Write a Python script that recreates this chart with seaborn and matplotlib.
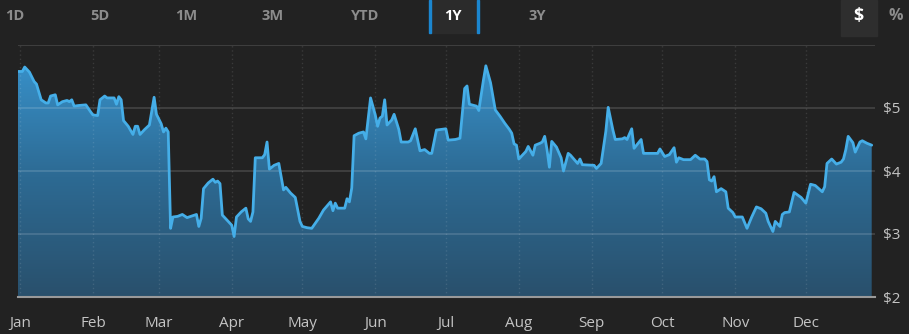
import numpy as np
import pandas as pd
import matplotlib
matplotlib.use("Agg")
import matplotlib.pyplot as plt
import seaborn as sns
from matplotlib.colors import LinearSegmentedColormap
from matplotlib.patches import Rectangle

# ---------------- data ----------------
start_date = "2023-01-01"
day_offsets = [-1, 1, 2, 4, 6, 7, 9, 11, 12, 13, 15, 16, 18, 20, 21, 22, 23, 25, 28, 30,
               31, 33, 34, 36, 37, 40, 41, 42, 43, 44, 46, 48, 49, 50, 51, 53, 55, 57, 58, 60,
               61, 62, 63, 64, 65, 67, 69, 71, 75, 76, 77, 78, 80, 82, 83, 84, 85, 86, 88, 90,
               91, 92, 94, 96, 97, 98, 99, 100, 103, 104, 105, 106, 108, 110, 112, 113, 115, 117, 119, 120,
               122, 124, 127, 129, 132, 133, 134, 135, 138, 139, 140, 141, 142, 144, 146, 147, 149, 151, 152, 153,
               154, 155, 156, 158, 159, 161, 162, 165, 166, 168, 170, 172, 174, 175, 177, 181, 182, 185, 187, 189,
               190, 191, 194, 195, 197, 198, 200, 201, 202, 204, 206, 208, 209, 210, 211, 212, 215, 216, 218, 219,
               221, 222, 223, 224, 225, 226, 228, 230, 231, 233, 234, 237, 238, 239, 244, 245, 247, 249, 250, 252,
               253, 256, 257, 258, 260, 261, 264, 265, 267, 271, 272, 274, 276, 278, 279, 280, 282, 285, 287, 289,
               291, 292, 293, 294, 295, 296, 298, 300, 301, 303, 304, 307, 309, 311, 313, 315, 317, 318, 320, 321,
               323, 324, 325, 327, 329, 332, 334, 336, 338, 341, 342, 343, 345, 347, 349, 350, 351, 352, 354, 355,
               357, 358, 360, 362]
prices = [5.58, 5.58, 5.65, 5.57, 5.42, 5.38, 5.13, 5.08, 5.08, 5.19, 5.21, 5.05, 5.10, 5.12, 5.10, 5.13, 5.03, 5.04, 5.05, 4.94,
          4.89, 4.88, 5.13, 5.19, 5.16, 5.16, 5.06, 5.18, 5.13, 4.80, 4.71, 4.58, 4.71, 4.71, 4.58, 4.66, 4.73, 5.17, 4.90, 4.75,
          4.62, 4.68, 4.62, 3.09, 3.27, 3.28, 3.31, 3.26, 3.31, 3.12, 3.25, 3.72, 3.81, 3.87, 3.82, 3.84, 3.80, 3.30, 3.22, 3.14,
          2.96, 3.27, 3.35, 3.41, 3.24, 3.20, 3.35, 4.21, 4.21, 4.26, 4.46, 4.03, 4.09, 4.12, 3.70, 3.74, 3.65, 3.58, 3.20, 3.12,
          3.10, 3.09, 3.25, 3.38, 3.51, 3.37, 3.49, 3.41, 3.41, 3.56, 3.51, 3.73, 4.56, 4.60, 4.62, 4.51, 5.16, 4.89, 4.71, 4.84,
          4.87, 5.13, 4.73, 4.81, 4.90, 4.66, 4.46, 4.46, 4.48, 4.67, 4.32, 4.34, 4.28, 4.28, 4.65, 4.67, 4.49, 4.50, 4.52, 5.31,
          5.35, 5.06, 5.03, 4.96, 5.45, 5.67, 5.40, 5.19, 4.97, 4.87, 4.76, 4.66, 4.60, 4.43, 4.41, 4.19, 4.31, 4.39, 4.25, 4.41,
          4.44, 4.46, 4.55, 4.34, 4.06, 4.47, 4.38, 4.21, 4.00, 4.28, 4.25, 4.12, 4.19, 4.10, 4.09, 4.04, 4.12, 4.63, 5.01, 4.65,
          4.50, 4.51, 4.53, 4.50, 4.67, 4.36, 4.50, 4.28, 4.28, 4.28, 4.35, 4.23, 4.26, 4.37, 4.14, 4.21, 4.18, 4.18, 4.25, 4.19,
          4.19, 4.15, 3.86, 3.84, 3.91, 3.67, 3.72, 3.67, 3.41, 3.34, 3.27, 3.27, 3.09, 3.27, 3.43, 3.40, 3.33, 3.20, 3.04, 3.20,
          3.12, 3.31, 3.34, 3.35, 3.66, 3.58, 3.49, 3.79, 3.77, 3.67, 3.75, 4.12, 4.19, 4.11, 4.14, 4.19, 4.34, 4.55, 4.45, 4.30,
          4.46, 4.48, 4.44, 4.41]
month_labels = ["Jan", "Feb", "Mar", "Apr", "May", "Jun", "Jul", "Aug", "Sep", "Oct", "Nov", "Dec"]
y_ticks = [2, 3, 4, 5]
y_tick_labels = ["$2", "$3", "$4", "$5"]
range_buttons = ["1D", "5D", "1M", "3M", "YTD", "1Y", "3Y"]
selected_range = "1Y"
unit_buttons = ["$", "%"]

# ---------------- styling ----------------
W, H = 909, 334
BG = "#222222"
LINE = "#45aee8"
TXT = "#c4c4c4"
BTN = "#8c8c8c"

sns.set_theme(style="dark")
plt.rcParams.update({
    "font.family": ["Open Sans", "DejaVu Sans"],
    "figure.facecolor": BG,
    "axes.facecolor": BG,
    "savefig.facecolor": BG,
})

base = pd.Timestamp(start_date)
df = pd.DataFrame({
    "date": base + pd.to_timedelta(day_offsets, unit="D"),
    "price": prices,
})

fig = plt.figure(figsize=(W / 100, H / 100), dpi=100)
ax = fig.add_axes([18 / W, 1 - 297 / H, (875 - 18) / W, (297 - 45) / H])
ax.set_facecolor(BG)

x_left = base - pd.Timedelta(days=0.85)
x_right = base + pd.Timedelta(days=363.4)
ax.set_xlim(x_left, x_right)
ax.set_ylim(2, 6)

# gradient area under the line
poly = ax.fill_between(df["date"], df["price"], 2, color="none", lw=0, zorder=1)
cmap = LinearSegmentedColormap.from_list("g", ["#29506c", "#2d6a93", "#3892cb"])
grad = np.linspace(0, 1, 256).reshape(-1, 1)
xl = matplotlib.dates.date2num([x_left, x_right])
img = ax.imshow(grad, cmap=cmap, origin="lower", aspect="auto",
                extent=[xl[0], xl[1], 2, 5.8], zorder=1, interpolation="bicubic")
img.set_clip_path(poly.get_paths()[0], transform=ax.transData)
ax.set_xlim(x_left, x_right)
ax.set_ylim(2, 6)

# grid lines
for v in [3, 4, 5, 6]:
    ax.axhline(v, color="white", alpha=0.13, lw=1.5, zorder=2)
month_starts = pd.date_range(start_date, periods=12, freq="MS")
for m in month_starts:
    ax.axvline(m, color="white", alpha=0.11, lw=1, ls=(0, (1, 2)), zorder=2)

# price line
sns.lineplot(data=df, x="date", y="price", ax=ax, color=LINE, lw=2, zorder=3)

# axes decoration
for s in ["top", "left", "right"]:
    ax.spines[s].set_visible(False)
ax.spines["bottom"].set_color("#9a9a9a")
ax.spines["bottom"].set_linewidth(1.5)
ax.set_xlabel("")
ax.set_ylabel("")
ax.set_xticks(month_starts)
ax.set_xticklabels(month_labels)
ax.tick_params(axis="x", colors="#a0a0a0", length=5.5, width=1.5, pad=8,
               labelsize=11, labelcolor=TXT)
ax.yaxis.tick_right()
ax.set_yticks(y_ticks)
ax.set_yticklabels(y_tick_labels)
ax.tick_params(axis="y", length=0, pad=6, labelsize=11, labelcolor=TXT)
ax.grid(False)

# ---------------- top control bar ----------------
def fx(px):
    return px / W

def fy(py):
    return 1 - py / H

btn_x = [15, 100, 186, 273, 365, 453, 537]
sel_i = range_buttons.index(selected_range)
fig.patches.append(Rectangle((fx(430), fy(33)), fx(478) - fx(430), 33 / H,
                             transform=fig.transFigure, color="#2b2b2b", zorder=0))
for bx in [430, 477.5]:
    fig.patches.append(Rectangle((fx(bx - 1), fy(33)), 2 / W, 33 / H,
                                 transform=fig.transFigure, color="#1b86cf", zorder=1))
for i, (lab, bx) in enumerate(zip(range_buttons, btn_x)):
    fig.text(fx(bx), fy(16), lab, ha="center", va="center", fontsize=10.5,
             fontweight="bold", color="white" if i == sel_i else BTN)

fig.patches.append(Rectangle((fx(841), fy(36)), 36 / W, 36 / H,
                             transform=fig.transFigure, color="#2e2e2e", zorder=0))
fig.text(fx(858), fy(16), unit_buttons[0], ha="center", va="center", fontsize=13,
         fontweight="bold", color="white")
fig.text(fx(896), fy(16), unit_buttons[1], ha="center", va="center", fontsize=11.5,
         fontweight="bold", color=BTN)

fig.savefig("out.png", dpi=100, facecolor=BG)
